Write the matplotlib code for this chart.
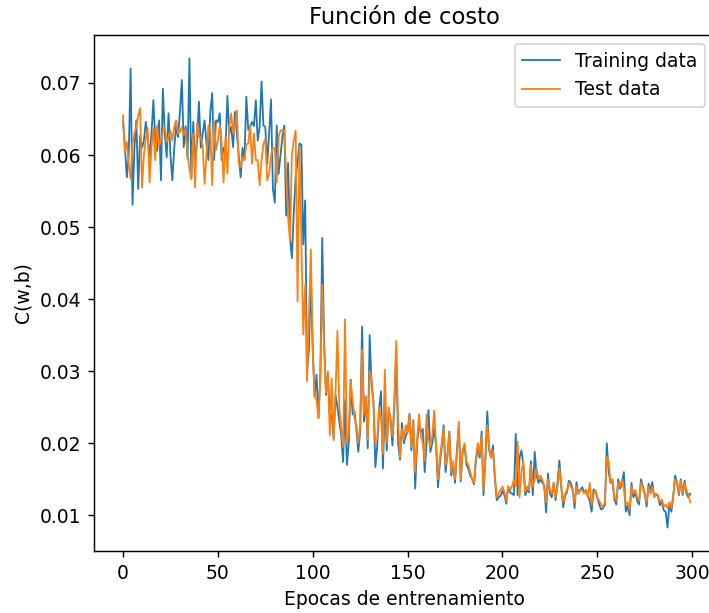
import numpy as np
import matplotlib
matplotlib.use("Agg")
import matplotlib.pyplot as plt

# Cost per epoch
train_cost = [
    .0646, .0610, .0569, .0600, .0720, .0531, .0610, .0648, .0553, .0627,
    .0610, .0620, .0646, .0625, .0597, .0630, .0676, .0620, .0606, .0648,
    .0565, .0692, .0630, .0597, .0658, .0600, .0565, .0610, .0640, .0625,
    .0660, .0704, .0611, .0640, .0595, .0734, .0567, .0646, .0588, .0620,
    .0674, .0610, .0630, .0648, .0615, .0593, .0660, .0686, .0593, .0648,
    .0646, .0658, .0593, .0610, .0606, .0682, .0630, .0639, .0611, .0660,
    .0630, .0600, .0569, .0610, .0593, .0681, .0635, .0639, .0646, .0640,
    .0676, .0620, .0639, .0702, .0641, .0639, .0588, .0630, .0677, .0553,
    .0534, .0641, .0574, .0600, .0625, .0641, .0516, .0589, .0486, .0457,
    .0520, .0569, .0590, .0616, .0614, .0476, .0537, .0300, .0330, .0430,
    .0330, .0265, .0295, .0235, .0295, .0485, .0342, .0267, .0293, .0240,
    .0239, .0207, .0267, .0250, .0230, .0211, .0174, .0260, .0170, .0202,
    .0288, .0240, .0244, .0220, .0188, .0216, .0362, .0230, .0265, .0193,
    .0350, .0280, .0258, .0167, .0197, .0248, .0272, .0165, .0260, .0190,
    .0246, .0235, .0197, .0250, .0330, .0200, .0177, .0228, .0200, .0210,
    .0216, .0241, .0190, .0232, .0137, .0200, .0225, .0215, .0220, .0160,
    .0200, .0246, .0188, .0200, .0220, .0197, .0139, .0172, .0195, .0225,
    .0160, .0185, .0216, .0155, .0170, .0145, .0190, .0225, .0147, .0188,
    .0197, .0170, .0165, .0155, .0150, .0143, .0175, .0195, .0180, .0216,
    .0128, .0180, .0244, .0190, .0180, .0197, .0150, .0121, .0125, .0127,
    .0134, .0128, .0116, .0140, .0132, .0130, .0128, .0213, .0128, .0180,
    .0190, .0170, .0128, .0135, .0132, .0175, .0128, .0188, .0155, .0145,
    .0150, .0145, .0142, .0104, .0158, .0130, .0125, .0145, .0121, .0145,
    .0176, .0140, .0111, .0127, .0132, .0148, .0145, .0136, .0110, .0146,
    .0130, .0135, .0139, .0132, .0135, .0128, .0120, .0105, .0136, .0132,
    .0125, .0115, .0108, .0110, .0114, .0200, .0160, .0145, .0147, .0122,
    .0115, .0150, .0137, .0145, .0160, .0105, .0113, .0100, .0145, .0125,
    .0132, .0120, .0115, .0150, .0140, .0130, .0112, .0144, .0135, .0146,
    .0125, .0130, .0126, .0114, .0120, .0107, .0105, .0083, .0117, .0105,
    .0125, .0155, .0146, .0128, .0150, .0128, .0148, .0130, .0125, .0130,
]

test_cost = [
    .0655, .0604, .0618, .0588, .0567, .0616, .0630, .0639, .0655, .0665,
    .0555, .0600, .0623, .0637, .0562, .0610, .0637, .0593, .0641, .0613,
    .0620, .0632, .0639, .0618, .0625, .0634, .0620, .0639, .0648, .0630,
    .0632, .0639, .0628, .0634, .0602, .0580, .0567, .0630, .0555, .0644,
    .0625, .0625, .0611, .0560, .0600, .0641, .0634, .0558, .0646, .0607,
    .0620, .0641, .0616, .0562, .0625, .0574, .0639, .0658, .0630, .0639,
    .0662, .0588, .0583, .0597, .0593, .0615, .0616, .0641, .0588, .0630,
    .0593, .0593, .0558, .0593, .0615, .0623, .0565, .0574, .0600, .0610,
    .0609, .0562, .0625, .0634, .0635, .0634, .0574, .0514, .0480, .0600,
    .0620, .0634, .0397, .0611, .0480, .0351, .0420, .0286, .0380, .0469,
    .0330, .0265, .0260, .0235, .0290, .0420, .0330, .0270, .0300, .0211,
    .0290, .0204, .0270, .0356, .0250, .0220, .0195, .0372, .0200, .0215,
    .0285, .0260, .0235, .0225, .0200, .0225, .0330, .0240, .0265, .0205,
    .0300, .0290, .0255, .0200, .0205, .0250, .0235, .0185, .0302, .0200,
    .0250, .0230, .0210, .0260, .0342, .0230, .0180, .0220, .0205, .0225,
    .0215, .0240, .0195, .0230, .0160, .0205, .0240, .0210, .0200, .0175,
    .0240, .0205, .0195, .0210, .0245, .0200, .0150, .0180, .0200, .0220,
    .0170, .0180, .0215, .0160, .0175, .0150, .0185, .0230, .0150, .0190,
    .0200, .0175, .0170, .0160, .0150, .0145, .0180, .0200, .0185, .0210,
    .0135, .0175, .0225, .0195, .0180, .0190, .0155, .0125, .0130, .0135,
    .0140, .0132, .0120, .0140, .0135, .0140, .0150, .0140, .0202, .0125,
    .0160, .0175, .0132, .0140, .0135, .0170, .0140, .0150, .0165, .0150,
    .0155, .0150, .0140, .0118, .0150, .0135, .0130, .0145, .0125, .0140,
    .0165, .0140, .0118, .0130, .0135, .0145, .0140, .0135, .0118, .0140,
    .0130, .0135, .0135, .0130, .0135, .0125, .0145, .0115, .0130, .0135,
    .0125, .0120, .0115, .0112, .0118, .0181, .0175, .0145, .0150, .0125,
    .0120, .0145, .0140, .0150, .0135, .0115, .0118, .0108, .0140, .0130,
    .0135, .0125, .0120, .0145, .0138, .0130, .0118, .0140, .0130, .0140,
    .0125, .0130, .0128, .0118, .0122, .0112, .0115, .0110, .0118, .0110,
    .0128, .0150, .0145, .0130, .0148, .0130, .0145, .0135, .0128, .0118,
]

epochs = np.arange(len(train_cost))

plt.rcParams["font.size"] = 10.4
plt.rcParams["axes.titlesize"] = 12.5

fig = plt.figure(figsize=(709 / 130, 613 / 130), dpi=130)
# the reference is cropped just inside the right spine
ax = fig.add_axes([94 / 709, 1 - 551 / 613, 620 / 709, 516 / 613])

ax.plot(epochs, train_cost, label="Training data", linewidth=1.0)
ax.plot(epochs, test_cost, label="Test data", linewidth=1.0)

ax.set_xlim(-15.3, 311.5)
ax.set_title("Función de costo")
ax.set_xlabel("Epocas de entrenamiento")
ax.set_ylabel("C(w,b)")
ax.legend(loc="upper right")

fig.savefig("out.png", dpi=130)
